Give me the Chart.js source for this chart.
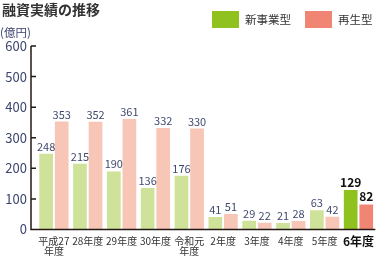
<!DOCTYPE html>
<html>
<head>
<meta charset="utf-8">
<script src="https://cdn.jsdelivr.net/npm/chart.js@4.4.1/dist/chart.umd.min.js"></script>
<style>
  body { margin: 0; background: #fff; }
  #wrap { position: relative; width: 380px; height: 258px; }
  .t { position: absolute; font-family: "Noto Sans CJK JP", sans-serif; white-space: nowrap; }
  .box { position: absolute; width: 27px; height: 17px; }
</style>
</head>
<body>
<div id="wrap">
  <canvas id="chart" width="380" height="258"></canvas>
  <div class="t" style="left:2px;top:0px;font-size:14px;font-weight:bold;color:#333;line-height:18px">融資実績の推移</div>
  <div class="t" style="left:0px;top:25px;font-size:11.5px;color:#3c4470;line-height:14px">(億円)</div>
  <div class="box" style="left:212px;top:11px;background:#8fc21f"></div>
  <div class="t" style="left:245px;top:11px;font-size:11.5px;color:#333;line-height:17px">新事業型</div>
  <div class="box" style="left:305px;top:11px;background:#ef8572"></div>
  <div class="t" style="left:338px;top:11px;font-size:11.5px;color:#333;line-height:17px">再生型</div>
</div>
<script>
var FONT = '"Noto Sans CJK JP", sans-serif'

var years = [['平成27', '年度'], '28年度', '29年度', '30年度', ['令和元', '年度'], '2年度', '3年度', '4年度', '5年度', '6年度']
var newBiz = [248, 215, 190, 136, 176, 41, 29, 21, 63, 129]
var revival = [353, 352, 361, 332, 330, 51, 22, 28, 42, 82]
var yTicks = [0, 100, 200, 300, 400, 500, 600]

var last = years.length - 1

// past years are pale, the latest year is full colour
var greens = years.map(function (y, i) { return i === last ? '#8fc21f' : '#cfe29a' })
var pinks = years.map(function (y, i) { return i === last ? '#ef8572' : '#f7c6b6' })

// value labels above bars
var valueLabels = {
  id: 'valueLabels',
  afterDatasetsDraw: function (chart) {
    var ctx = chart.ctx
    ctx.save()
    ctx.textAlign = 'center'
    ctx.textBaseline = 'alphabetic'
    chart.data.datasets.forEach(function (ds, di) {
      chart.getDatasetMeta(di).data.forEach(function (bar, i) {
        if (i === last) {
          ctx.font = 'bold 12px ' + FONT
          ctx.fillStyle = '#111'
        } else {
          ctx.font = '11px ' + FONT
          ctx.fillStyle = '#404a6e'
        }
        ctx.fillText(ds.data[i], bar.x, bar.y - 3)
      })
    })
    ctx.restore()
  }
}

// axis lines: y axis sits a little left of the first bar group
var axisLines = {
  id: 'axisLines',
  afterDraw: function (chart) {
    var ctx = chart.ctx
    var y = chart.scales.y
    var area = chart.chartArea
    var ax = 31
    ctx.save()
    ctx.strokeStyle = '#231815'
    ctx.lineWidth = 1.5
    ctx.beginPath()
    ctx.moveTo(ax, y.getPixelForValue(600))
    ctx.lineTo(ax, area.bottom)
    ctx.lineTo(area.right, area.bottom)
    yTicks.forEach(function (v) {
      if (v === 0) return
      var py = y.getPixelForValue(v)
      ctx.moveTo(ax, py)
      ctx.lineTo(ax + 5, py)
    })
    ctx.stroke()
    ctx.restore()
  }
}

new Chart(document.getElementById('chart'), {
  type: 'bar',
  data: {
    labels: years,
    datasets: [
      { label: '新事業型', data: newBiz, backgroundColor: greens, categoryPercentage: 0.92, barPercentage: 0.88 },
      { label: '再生型', data: revival, backgroundColor: pinks, categoryPercentage: 0.92, barPercentage: 0.88 }
    ]
  },
  options: {
    responsive: false,
    animation: false,
    layout: { padding: { top: 46, right: 0, left: 0, bottom: 0 } },
    plugins: {
      legend: { display: false },
      tooltip: { enabled: false }
    },
    scales: {
      x: {
        grid: { display: false, drawTicks: false },
        border: { display: false },
        afterFit: function (s) { s.height = 28.5 },
        ticks: {
          autoSkip: false,
          maxRotation: 0,
          padding: 6,
          color: function (c) { return c.index === last ? '#111' : '#333' },
          font: function (c) {
            return c.index === last
              ? { family: FONT, size: 12, weight: 'bold', lineHeight: 1.0 }
              : { family: FONT, size: 10, lineHeight: 1.05 }
          }
        }
      },
      y: {
        min: 0,
        max: 600,
        grid: { display: false, drawTicks: false },
        border: { display: false },
        afterFit: function (s) { s.width = 37 },
        ticks: {
          stepSize: 100,
          padding: 10,
          color: '#3c4470',
          font: { family: FONT, size: 13 }
        }
      }
    }
  },
  plugins: [valueLabels, axisLines]
})
</script>
</body>
</html>
